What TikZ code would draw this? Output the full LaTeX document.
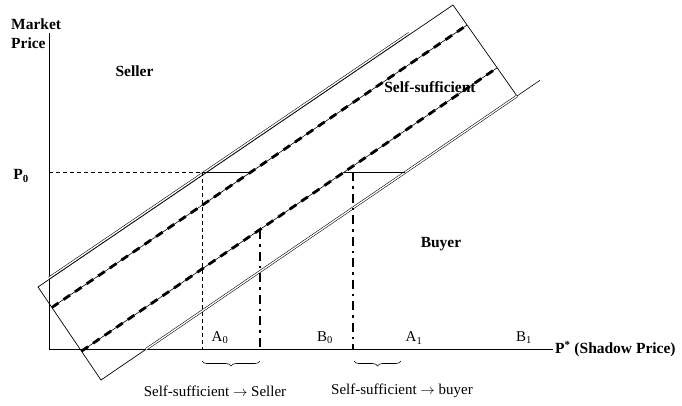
\documentclass[tikz,border=0pt]{standalone}
\usepackage{fontspec}
\setmainfont{Liberation Serif}
\usetikzlibrary{calc,decorations.pathreplacing}
\begin{document}
\begin{tikzpicture}[x=1pt,y=-1pt,
  axisline/.style={line width=0.8pt},
  frame/.style={line width=0.7pt},
  dblline/.style={line width=0.55pt,double=white,double distance=1.3pt},
  guide/.style={line width=0.6pt},
  bigdash/.style={line width=2.8pt,dash pattern=on 8pt off 6pt},
  dashdotline/.style={line width=2.8pt,dash pattern=on 9pt off 5pt on 2.5pt off 5pt},
  finedash/.style={line width=0.6pt,dash pattern=on 4pt off 3pt},
  brc/.style={line width=0.6pt,decorate,decoration={brace,mirror,amplitude=5pt}},
  lab/.style={font=\fontsize{15}{17}\selectfont,inner sep=0pt},
  blab/.style={font=\fontsize{15.5}{17}\selectfont\bfseries,inner sep=0pt}
]
\useasboundingbox (0,0) rectangle (682,405);

% axes
\coordinate (O) at (49,349);
\coordinate (Ytop) at (49,33);
\coordinate (Xend) at (553,349);
\draw[axisline] (Ytop) -- (O) -- (Xend);

% rotated rectangle
\coordinate (TL) at (38,287);
\coordinate (TR) at (453,5);
\coordinate (BR) at (517,96);
\coordinate (BL) at (101,380);
\draw[frame] (TL) -- (TR) -- (BR) -- (BL) -- cycle;

% double lines
\coordinate (D1a) at ($(TL)!0.0265!(TR)+(0,-1.6)$);
\coordinate (D1b) at ($(TL)!0.894!(TR)+(0,-1.6)$);
\draw[dblline] (D1a) -- (D1b);
\coordinate (D2a) at ($(BL)!0.108!(BR)$);
\draw[dblline] (D2a) -- (BR);
\coordinate (D2c) at ($(BL)!1.055!(BR)$);
\draw[guide] (BR) -- (D2c);

% thick dashed lines (with thin line beneath)
\coordinate (U1) at ($(TL)!0.22!(BL)$);
\coordinate (U2) at ($(TR)!0.22!(BR)$);
\coordinate (L1) at ($(TL)!0.69!(BL)$);
\coordinate (L2) at ($(TR)!0.69!(BR)$);
\draw[guide] (U1) -- (U2);
\draw[bigdash] (U1) -- (U2);
\draw[guide] (L1) -- (L2);
\draw[bigdash] (L1) -- (L2);

% P0 level
\coordinate (P0a) at (49,172);
\coordinate (P0b) at (202,172);
\coordinate (P0c) at (251,172);
\coordinate (P0d) at (344,172);
\coordinate (P0e) at (405,172);
\draw[finedash] (P0a) -- (P0b);
\draw[guide] (P0b) -- (P0c);
\draw[guide] (P0d) -- (P0e);

% verticals
\coordinate (VA) at (202,349);
\draw[finedash] (P0b) -- (VA);
\coordinate (VBtop) at (260,230);
\coordinate (VB) at (260,349);
\draw[dashdotline] (VBtop) -- (VB);
\coordinate (VCtop) at (353,172);
\coordinate (VC) at (353,349);
\draw[dashdotline] (VCtop) -- (VC);

% braces
\coordinate (Br1a) at (202,361);
\coordinate (Br1b) at (260,361);
\coordinate (Br2a) at (354,361);
\coordinate (Br2b) at (401,361);
\draw[brc] (Br1a) -- (Br1b);
\draw[brc] (Br2a) -- (Br2b);

% labels
\node[blab,anchor=west] (market) at (11,24) {Market};
\node[blab,anchor=west] (price) at (11,43) {Price};
\node[blab] (seller) at (134.5,71.5) {Seller};
\node[blab] (p0) at (21,176) {P\textsubscript{0}};
\node[blab] (buyer) at (441,244) {Buyer};
\node[blab] (self) at (430,87) {Self-sufficient};
\node[lab] (a0) at (220,338) {A\textsubscript{0}};
\node[lab] (b0) at (325,338) {B\textsubscript{0}};
\node[lab] (a1) at (414,338) {A\textsubscript{1}};
\node[lab] (b1) at (524,338) {B\textsubscript{1}};
\node[blab,anchor=west] (pstar) at (555,349) {P\textsuperscript{*} (Shadow Price)};
\node[lab] (ss1) at (215,391) {Self-sufficient $\rightarrow$ Seller};
\node[lab] (ss2) at (402,391) {Self-sufficient $\rightarrow$ buyer};
\end{tikzpicture}
\end{document}
